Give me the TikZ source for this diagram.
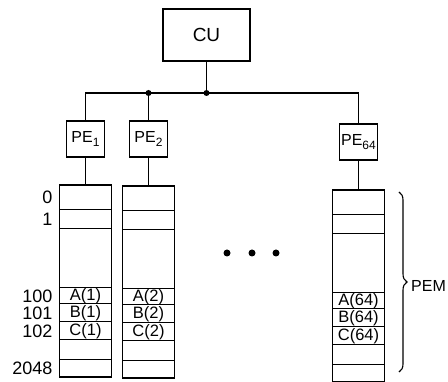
\documentclass[tikz,border=0pt]{standalone}
\usepackage{fontspec}
\setmainfont{Liberation Sans}
\usetikzlibrary{decorations.pathreplacing}

\tikzset{
  box/.style={draw, line width=1.7pt, inner sep=0pt},
  pe/.style={box, minimum width=38pt, minimum height=36pt, font=\fontsize{16}{16}\selectfont},
  cell/.style={draw, line width=1pt, inner sep=0pt, outer sep=0pt, minimum width=52pt, anchor=north, font=\fontsize{16.5}{16.5}\selectfont},
  memedge/.style={line width=1.7pt},
  addr/.style={anchor=east, inner sep=0pt, xshift=-7pt, font=\fontsize{18}{18}\selectfont},
  wire/.style={line width=1.1pt},
  junction/.style={circle, fill, inner sep=0pt, minimum size=6pt},
}

% subscript of a PE label
\newcommand{\pesub}[1]{\raisebox{-3.5pt}{\fontsize{12}{12}\selectfont #1}}

% one memory column: name, x, top, index
\newcommand{\memcol}[4]{%
  \foreach \t/\h/\txt [count=\r] in {0/25/{},25/19/{},44/59/{},103/16/{A(#4)},119/18/{B(#4)},137/18/{C(#4)},155/20/{},175/17/{}}
    \node[cell, minimum height=\h pt] (#1-\r) at (#2,#3+\t) {\txt};
  \draw[memedge] (#1-1.north west) rectangle (#1-8.south east);
}

\begin{document}
\begin{tikzpicture}[x=1pt, y=-1pt]
  \useasboundingbox (0,0) rectangle (448,382);
  % control unit
  \node[box, minimum width=87pt, minimum height=52pt, font=\fontsize{19}{19}\selectfont] (cu) at (206.5,35) {CU};
  % processing elements
  \node[pe] (pe1) at (85.5,139) {PE\pesub{1}};
  \node[pe] (pe2) at (148.5,139) {PE\pesub{2}};
  \node[pe] (pe64) at (358.5,142) {PE\pesub{64}};
  % bus
  \coordinate (j0) at (206.5,93);
  \coordinate (j1) at (148.5,93);
  \draw[wire] (cu) -- (j0);
  \draw[wire] (pe1) |- (j0) -| (pe64);
  \draw[wire] (j1) -- (pe2);
  \node[junction] (dot0) at (j0) {};
  \node[junction] (dot1) at (j1) {};
  % memories
  \memcol{m1}{85.5}{185}{1}
  \memcol{m2}{148.5}{186}{2}
  \memcol{m64}{358.5}{190}{64}
  \draw[wire] (pe1) -- (m1-1);
  \draw[wire] (pe2) -- (m2-1);
  \draw[wire] (pe64) -- (m64-1);
  % addresses
  \node[addr] (a0) at (m1-1.west) {0};
  \node[addr] (a1) at (m1-2.west) {1};
  \node[addr] (a100) at (m1-4.west) {100};
  \node[addr] (a101) at (m1-5.west) {101};
  \node[addr] (a102) at (m1-6.west) {102};
  \node[addr] (a2048) at (m1-8.west) {2048};
  % the columns in between
  \node[junction, minimum size=7pt] (d1) at (227,253) {};
  \node[junction, minimum size=7pt] (d2) at (252,253) {};
  \node[junction, minimum size=7pt] (d3) at (276,253) {};
  % brace
  \coordinate (bt) at (399,192);
  \coordinate (bb) at (399,372);
  \draw[wire, decorate, decoration={brace, amplitude=8pt}] (bt) -- (bb);
  \node[anchor=west, inner sep=0pt, font=\fontsize{16}{16}\selectfont] (pem) at (411,286) {PEM};
\end{tikzpicture}
\end{document}
